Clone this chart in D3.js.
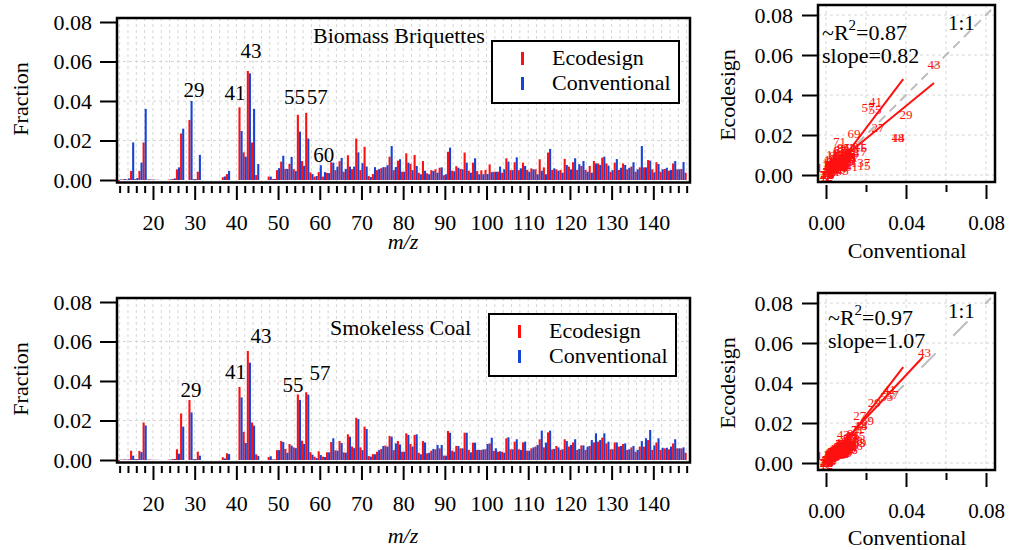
<!DOCTYPE html>
<html>
<head>
<meta charset="utf-8">
<title>Mass spectra: Ecodesign vs Conventional</title>
<script src="https://cdn.jsdelivr.net/npm/d3@7"></script>
<style>
body { margin: 0; background: #fff; }
svg text { font-family: "Liberation Serif", "Times New Roman", serif; fill: #000; }
.grid line { stroke: #d6d6d6; stroke-width: 1; stroke-dasharray: 3,3; }
.axis line { stroke: #000; stroke-width: 2; }
.axis path { display: none; }
</style>
</head>
<body>
<script>
// m/z channels
var mz = [12,13,14,15,16,17,18,19,20,21,
  22,23,24,25,26,27,28,29,30,31,
  32,33,34,35,36,37,38,39,40,41,
  42,43,44,45,46,47,48,49,50,51,
  52,53,54,55,56,57,58,59,60,61,
  62,63,64,65,66,67,68,69,70,71,
  72,73,74,75,76,77,78,79,80,81,
  82,83,84,85,86,87,88,89,90,91,
  92,93,94,95,96,97,98,99,100,101,
  102,103,104,105,106,107,108,109,110,111,
  112,113,114,115,116,117,118,119,120,121,
  122,123,124,125,126,127,128,129,130,131,
  132,133,134,135,136,137,138,139,140,141,
  142,143,144,145,146,147,148];

// Biomass Briquettes
var biomassEco = [-0.0005,0.0003,0.0003,0.0046,0.0005,0.0046,0.019,0.0003,0.0002,0.0001,
  0,0,0.0002,0.0005,0.0054,0.0236,0,0.0304,0.0005,0.0042,
  0,0,0,0,0,0.0014,0.003,0,0,0.0368,
  0.014,0.0552,0.019,0.0025,0,0,0.0017,0.0005,0.005,0.0093,
  0.0056,0.0082,0.0055,0.033,0.0096,0.034,0.0039,0.0017,0.004,0.0017,
  0.0036,0.009,0.005,0.0095,0.0042,0.0125,0.0055,0.021,0.005,0.0168,
  0.002,0.003,0.005,0.006,0.0065,0.0118,0.005,0.0098,0.0042,0.0135,
  0.0082,0.0127,0.0037,0.0096,0.0034,0.005,0.0054,0.0062,0.0024,0.0143,
  0.0047,0.007,0.0056,0.0139,0.0047,0.0088,0.0045,0.0049,0.0051,0.0079,
  0.0042,0.0042,0.0037,0.011,0.005,0.009,0.005,0.0088,0.0051,0.0059,
  0.0054,0.0105,0.0064,0.0139,0.0051,0.0054,0.0051,0.0107,0.0068,0.009,
  0.0051,0.0071,0.0051,0.0071,0.0096,0.0084,0.0113,0.0084,0.0042,0.0088,
  0.0051,0.0084,0.0054,0.0068,0.0042,0.0064,0.0064,0.0101,0.0054,0.009,
  0.0042,0.0056,0.0047,0.0084,0.0054,0.0056,0.0037];
var biomassConv = [0.0003,0.0005,0.0008,0.019,0.001,0.0088,0.036,0.0003,0.0002,0.0001,
  0,0,0.0003,0.0008,0.0064,0.026,0,0.04,0.0005,0.0127,
  0,0,0,0,0,0.0018,0.0046,0,0,0.0248,
  0.0118,0.054,0.036,0.0081,0,0,0.0017,0.0005,0.006,0.0123,
  0.0056,0.0117,0.0045,0.0245,0.0072,0.021,0.003,0.002,0.0075,0.004,
  0.0035,0.0088,0.0068,0.0112,0.0056,0.0068,0.0068,0.014,0.0085,0.0068,
  0.0015,0.0065,0.0055,0.0065,0.0075,0.0172,0.0066,0.0105,0.0042,0.0088,
  0.005,0.0071,0.0029,0.0047,0.0029,0.0046,0.0037,0.0064,0.0029,0.0164,
  0.0044,0.0062,0.0054,0.0088,0.0037,0.011,0.0029,0.0029,0.003,0.004,
  0.0042,0.0068,0.0054,0.0093,0.005,0.0115,0.0059,0.0071,0.0042,0.0054,
  0.0029,0.0047,0.0029,0.0157,0.0059,0.0047,0.0037,0.0076,0.0054,0.011,
  0.008,0.0096,0.0042,0.0037,0.0084,0.0076,0.0118,0.0073,0.005,0.0106,
  0.0062,0.0076,0.0062,0.009,0.0054,0.0172,0.0064,0.0098,0.0039,0.0081,
  0.0054,0.0062,0.0051,0.0096,0.0054,0.0091,0];

// Smokeless Coal
var coalEco = [-0.0005,0.0002,0.0002,0.0047,0.0005,0.0046,0.019,0.0002,0.0001,0.0001,
  0,0,0.0002,0.0005,0.0054,0.0236,0,0.0304,0.0005,0.0042,
  0,0,0,0,0,0.0014,0.0034,0,0,0.037,
  0.0142,0.0552,0.019,0.0029,0,0,0.0015,0.0003,0.005,0.0096,
  0.0056,0.0081,0.0064,0.0332,0.0098,0.0343,0.004,0.0017,0.0044,0.0017,
  0.0039,0.0091,0.0049,0.0096,0.0039,0.013,0.0068,0.0214,0.0064,0.0169,
  0.002,0.003,0.0042,0.0056,0.0073,0.0122,0.005,0.0096,0.0042,0.0135,
  0.0081,0.0127,0.0037,0.0096,0.0034,0.0047,0.0054,0.0059,0.0022,0.0147,
  0.0047,0.0071,0.0059,0.0138,0.0051,0.0088,0.0051,0.0051,0.0054,0.0084,
  0.0046,0.0042,0.0042,0.011,0.0054,0.0093,0.0054,0.0089,0.0047,0.0059,
  0.0068,0.0105,0.0064,0.014,0.0054,0.0071,0.0051,0.0105,0.0068,0.0089,
  0.0051,0.0074,0.0051,0.0071,0.0089,0.0093,0.0113,0.0084,0.0054,0.0089,
  0.0068,0.0081,0.0051,0.0064,0.0042,0.0068,0.0068,0.0101,0.0051,0.0089,
  0.0051,0.0059,0.0054,0.0084,0.0059,0.0059,0.0037];
var coalConv = [0.0002,0.0003,0.0003,0.0022,0.0005,0.004,0.0175,0.0002,0.0001,0.0001,
  0,0,0.0002,0.0005,0.0032,0.0169,0,0.0241,0.0005,0.0022,
  0,0,0,0,0,0.0008,0.003,0,0,0.0317,
  0.0086,0.0493,0.0174,0.002,0,0,0.0019,0.0003,0.005,0.0091,
  0.0037,0.0073,0.006,0.0304,0.0081,0.0331,0.0027,0.001,0.0025,0.0015,
  0.0039,0.011,0.0047,0.0086,0.0037,0.0118,0.006,0.0207,0.005,0.0157,
  0.0017,0.0029,0.005,0.0071,0.0068,0.0118,0.0084,0.0079,0.0042,0.0127,
  0.0068,0.013,0.0029,0.0089,0.0037,0.0056,0.0076,0.0076,0.0022,0.0138,
  0.0042,0.0071,0.0059,0.0138,0.0039,0.0088,0.0051,0.0054,0.0081,0.0113,
  0.0059,0.0044,0.0037,0.0115,0.0054,0.0105,0.0051,0.0093,0.0047,0.0064,
  0.0076,0.0149,0.0088,0.0149,0.0056,0.0064,0.0054,0.0096,0.0076,0.0105,
  0.0056,0.0074,0.0068,0.0101,0.0135,0.0101,0.0135,0.0093,0.0054,0.0089,
  0.0071,0.0084,0.0054,0.0071,0.0051,0.0096,0.011,0.0152,0.0074,0.011,
  0.0062,0.0062,0.0068,0.0105,0.0059,0.0064,0];

// peak annotations (m/z and the fraction level of the label baseline)
var biomassPeaks = [29, 41, 43, 55, 57, 60];
var biomassPeakY = [0.042, 0.0405, 0.0618, 0.0385, 0.0385, 0.0091];
var coalPeaks = [29, 41, 43, 55, 57];
var coalPeakY = [0.0319, 0.041, 0.0592, 0.0344, 0.0405];

// regression fits: [slope, intercept, max x]
var biomassFits = [[1.32, -0.003, 0.0386], [0.82, 0.0017, 0.054]];
var coalFits = [[1.3, -0.0022, 0.0386], [1.07, 0.0011, 0.0485]];
var biomassStats = ["0.87", "0.82"];
var coalStats = ["0.97", "1.07"];

var yTicks = [0, 0.02, 0.04, 0.06, 0.08];
var mzMajor = [20, 30, 40, 50, 60, 70, 80, 90, 100, 110, 120, 130, 140];

var red = "#ff1010", blue = "#1844d6";

var svg = d3.select("body").append("svg")
    .attr("width", 1009)
    .attr("height", 550);

function spectrum(o) {
  var x = d3.scaleLinear().domain([11.37, 148.8]).range([117, 690]);
  var y = d3.scaleLinear().domain([0, 0.08]).range([o.y0, o.y0 - 158]);
  var top = y(0.08) - 4, bottom = y(0) + 2.5;
  var minor = d3.range(12, 149, 2);
  var g = svg.append("g");

  var grid = g.append("g").attr("class", "grid");
  grid.selectAll(".v").data(minor).enter().append("line")
      .attr("x1", d => x(d)).attr("x2", d => x(d))
      .attr("y1", top).attr("y2", bottom);
  grid.selectAll(".h").data([0.02, 0.04, 0.06]).enter().append("line")
      .attr("x1", 117).attr("x2", 690)
      .attr("y1", d => y(d)).attr("y2", d => y(d));

  var w = x(12.5) - x(12);
  var rows = mz.map((m, i) => ({m: m, e: o.eco[i], c: o.conv[i]}));
  g.selectAll(".e").data(rows).enter().append("rect")
      .attr("x", d => x(d.m) - w)
      .attr("width", w)
      .attr("y", d => Math.min(y(d.e), y(0)))
      .attr("height", d => Math.abs(y(d.e) - y(0)))
      .attr("fill", red);
  g.selectAll(".c").data(rows).enter().append("rect")
      .attr("x", d => x(d.m))
      .attr("width", w)
      .attr("y", d => Math.min(y(d.c), y(0)))
      .attr("height", d => Math.abs(y(d.c) - y(0)))
      .attr("fill", blue);

  g.append("rect")
      .attr("x", 117).attr("y", top)
      .attr("width", 690 - 117).attr("height", bottom - top)
      .attr("fill", "none").attr("stroke", "#000").attr("stroke-width", 2.5);

  g.append("g").attr("class", "axis")
      .attr("transform", "translate(117,0)")
      .call(d3.axisLeft(y).tickValues(yTicks).tickFormat(d3.format(".2f"))
            .tickSize(17).tickPadding(8))
      .selectAll("text").style("font-size", "22px");

  g.append("g").attr("class", "axis")
      .attr("transform", "translate(0," + (bottom + 3.5) + ")")
      .call(d3.axisBottom(x).tickValues(minor.filter(d => d % 10 != 0))
            .tickSize(7).tickFormat(""));
  g.append("g").attr("class", "axis")
      .attr("transform", "translate(0," + (bottom + 3.5) + ")")
      .call(d3.axisBottom(x).tickValues(mzMajor).tickSize(14).tickPadding(o.labPad))
      .selectAll("text").style("font-size", "22px");

  g.selectAll(".pk").data(o.peaks).enter().append("text")
      .attr("x", (d, i) => x(d) + o.peakDx[i])
      .attr("y", (d, i) => y(o.peakY[i]))
      .attr("text-anchor", "middle")
      .style("font-size", "21px")
      .text(d => d);

  g.append("text")
      .attr("transform", "translate(28," + (y(0.04) - 2) + ") rotate(-90)")
      .attr("text-anchor", "middle")
      .style("font-size", "22px")
      .text("Fraction");
  g.append("text")
      .attr("x", 403).attr("y", o.mzY)
      .attr("text-anchor", "middle")
      .style("font-size", "22px").style("font-style", "italic")
      .text("m/z");
  g.append("text")
      .attr("x", o.titleX).attr("y", o.titleY)
      .style("font-size", "22px")
      .text(o.title);

  var lg = g.append("g").attr("transform", "translate(" + o.legX + "," + o.legY + ")");
  lg.append("rect").attr("width", 187).attr("height", 62)
      .attr("fill", "#fff").attr("stroke", "#000").attr("stroke-width", 2);
  [["Ecodesign", red], ["Conventional", blue]].forEach(function (s, i) {
    lg.append("rect").attr("x", 29).attr("y", 11 + i * 25)
        .attr("width", 3).attr("height", 13).attr("fill", s[1]);
    lg.append("text").attr("x", 60).attr("y", 24 + i * 25)
        .style("font-size", "22px").text(s[0]);
  });
}

function scatter(o) {
  var x = d3.scaleLinear().domain([0, 0.08]).range([826, 986]);
  var y = d3.scaleLinear().domain([0, 0.08]).range([o.y0, o.y0 - 160]);
  var left = x(-0.004), right = x(0.0845), top = y(0.08) - 10, bottom = y(0) + 7;
  var g = svg.append("g");
  var id = "clip" + o.y0;
  svg.append("clipPath").attr("id", id).append("rect")
      .attr("x", left).attr("y", top).attr("width", right - left).attr("height", bottom - top);

  var grid = g.append("g").attr("class", "grid");
  grid.selectAll(".v").data(yTicks).enter().append("line")
      .attr("x1", d => x(d)).attr("x2", d => x(d)).attr("y1", top).attr("y2", bottom);
  grid.selectAll(".h").data(yTicks).enter().append("line")
      .attr("x1", left).attr("x2", right).attr("y1", d => y(d)).attr("y2", d => y(d));

  var body = g.append("g").attr("clip-path", "url(#" + id + ")");
  body.append("line")
      .attr("x1", x(0)).attr("y1", y(0)).attr("x2", x(0.0825)).attr("y2", y(0.0825))
      .attr("stroke", "#bdbdbd").attr("stroke-width", 2)
      .attr("stroke-dasharray", o.dash);

  var pts = mz.map((m, i) => ({m: m, e: o.eco[i], c: o.conv[i]}))
      .filter(d => d.e > 0 || d.c > 0);
  body.selectAll(".p").data(pts).enter().append("text")
      .attr("x", d => x(d.c)).attr("y", d => y(d.e))
      .attr("text-anchor", "middle").attr("dy", "0.35em")
      .style("font-size", "13px").style("fill", red)
      .text(d => d.m);

  body.selectAll(".fit").data(o.fits).enter().append("line")
      .attr("x1", x(0)).attr("y1", d => y(d[1]))
      .attr("x2", d => x(d[2])).attr("y2", d => y(d[0] * d[2] + d[1]))
      .attr("stroke", red).attr("stroke-width", 2);

  g.append("rect")
      .attr("x", left).attr("y", top).attr("width", right - left).attr("height", bottom - top)
      .attr("fill", "none").attr("stroke", "#000").attr("stroke-width", 2.5);

  g.append("g").attr("class", "axis")
      .attr("transform", "translate(" + left + ",0)")
      .call(d3.axisLeft(y).tickValues(yTicks).tickFormat(d3.format(".2f"))
            .tickSize(16).tickPadding(9))
      .selectAll("text").style("font-size", "22px");
  g.append("g").attr("class", "axis")
      .attr("transform", "translate(0," + (bottom + 3) + ")")
      .call(d3.axisBottom(x).tickValues([0.02, 0.06]).tickSize(7).tickFormat(""));
  g.append("g").attr("class", "axis")
      .attr("transform", "translate(0," + (bottom + 3) + ")")
      .call(d3.axisBottom(x).tickValues([0, 0.04, 0.08]).tickFormat(d3.format(".2f"))
            .tickSize(14).tickPadding(o.labPad))
      .selectAll("text").style("font-size", "21px");

  g.append("text")
      .attr("transform", "translate(735," + y(0.04) + ") rotate(-90)")
      .attr("text-anchor", "middle")
      .style("font-size", "22px")
      .text("Ecodesign");
  g.append("text")
      .attr("x", 907).attr("y", o.convY)
      .attr("text-anchor", "middle")
      .style("font-size", "22px")
      .text("Conventional");

  var r2 = g.append("text").attr("x", o.statX).attr("y", o.statY).style("font-size", "22px");
  r2.append("tspan").text("~R");
  r2.append("tspan").attr("dy", -10).style("font-size", "15px").text("2");
  r2.append("tspan").attr("dy", 10).text("=" + o.stats[0]);
  g.append("text").attr("x", o.statX).attr("y", o.statY + 23)
      .style("font-size", "22px").text("slope=" + o.stats[1]);
  g.append("text").attr("x", 948).attr("y", o.oneY)
      .style("font-size", "21px").text("1:1");
}

spectrum({y0: 180, eco: biomassEco, conv: biomassConv,
  peaks: biomassPeaks, peakY: biomassPeakY, peakDx: [3.5, -5.6, 2, -4.5, 10, 4],
  labPad: 14, mzY: 249, title: "Biomass Briquettes", titleX: 313, titleY: 43,
  legX: 492, legY: 41});
spectrum({y0: 460, eco: coalEco, conv: coalConv,
  peaks: coalPeaks, peakY: coalPeakY, peakDx: [0.5, -5, 12, -6, 12.7],
  labPad: 15, mzY: 543, title: "Smokeless Coal", titleX: 330, titleY: 335,
  legX: 489, legY: 314});

scatter({y0: 175, eco: biomassEco, conv: biomassConv, fits: biomassFits,
  stats: biomassStats, dash: "9,6", labPad: 16, convY: 258,
  statX: 822, statY: 40, oneY: 30});
scatter({y0: 463, eco: coalEco, conv: coalConv, fits: coalFits,
  stats: coalStats, dash: "20,25", labPad: 16, convY: 545,
  statX: 828, statY: 325, oneY: 318});
</script>
</body>
</html>
